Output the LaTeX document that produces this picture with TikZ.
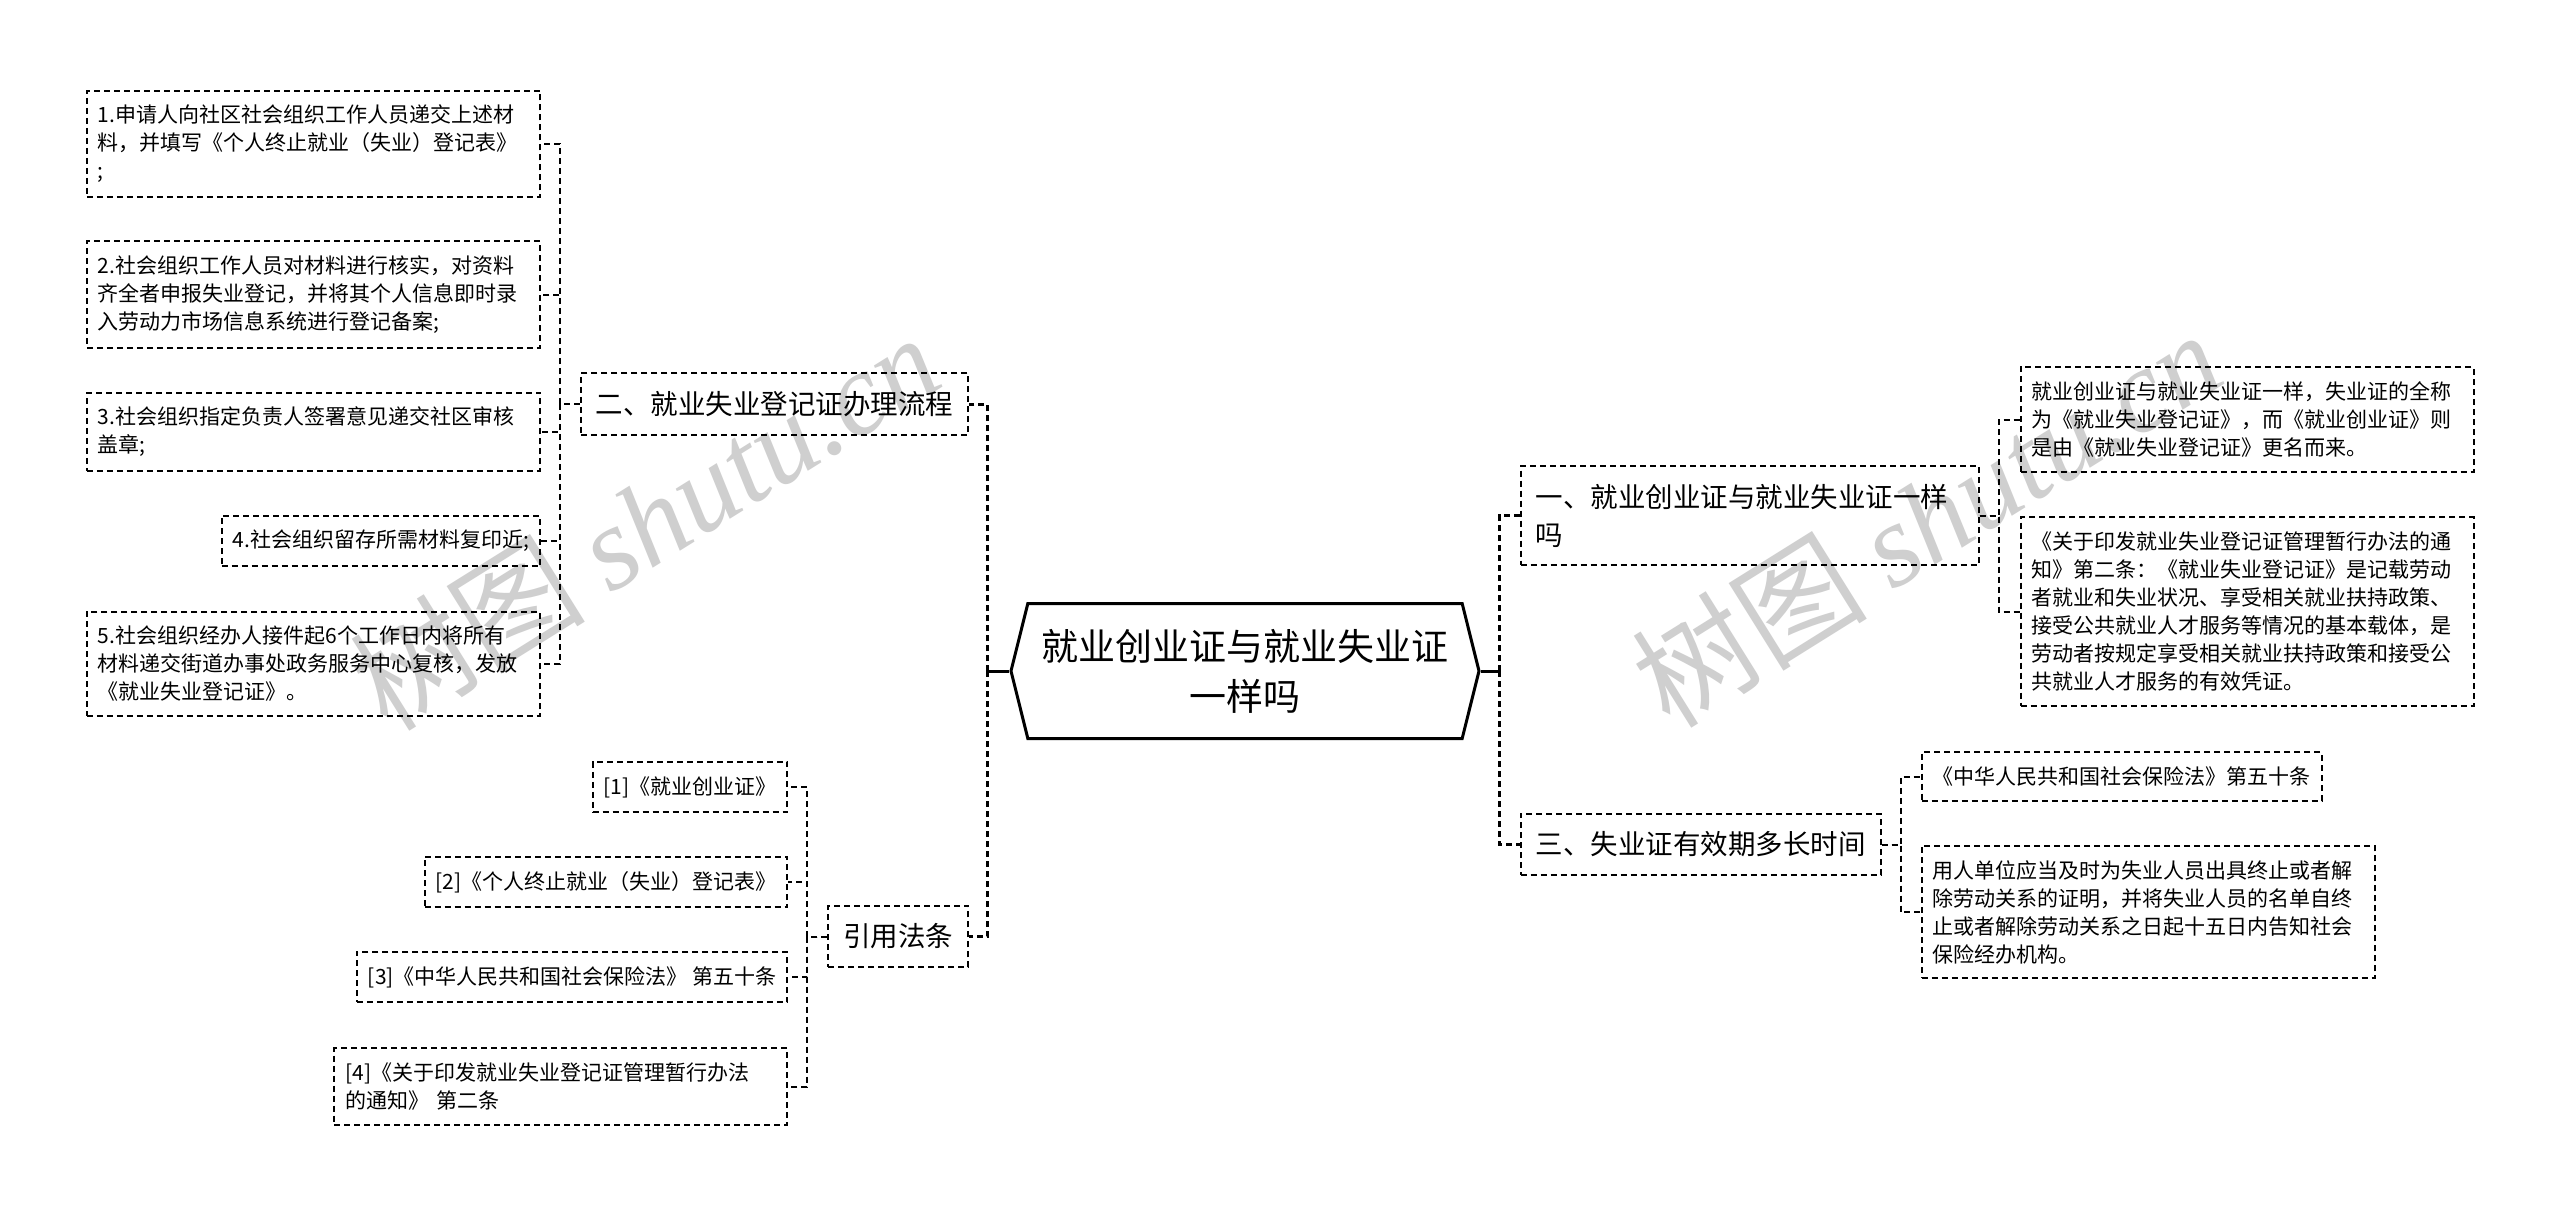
\documentclass[tikz,border=0pt]{standalone}
\usepackage{fontspec}
\setmainfont{Noto Sans CJK SC}
\newfontfamily\wmfont{Liberation Serif}
\usepackage{tikz}
\usetikzlibrary{shapes.symbols,positioning}

\begin{document}
\begin{tikzpicture}[
        x=1pt, y=1pt,
        topic/.style={signal, signal to=west and east, signal pointer angle=152, draw, line width=3pt, minimum width=468pt, minimum height=135pt, inner sep=0pt, align=center, font=\fontsize{37pt}{50pt}\selectfont},
        subtopic/.style={rectangle, draw, line width=2pt, dash pattern=on 6pt off 4pt, inner xsep=15pt, inner ysep=18pt, align=left, font=\fontsize{27.5pt}{38pt}\selectfont},
        leaf/.style={rectangle, draw, line width=2pt, dash pattern=on 6pt off 4pt, inner xsep=11pt, inner ysep=14.5pt, align=left, font=\fontsize{21pt}{28pt}\selectfont},
        note/.style={leaf, text width=431pt},
        stub/.style={line width=3pt},
        trunk/.style={line width=3pt, dash pattern=on 6pt off 4pt},
        link/.style={line width=2pt, dash pattern=on 6pt off 4pt},
        wmark/.style={rotate=32, text=black!19, font=\fontsize{118pt}{118pt}\selectfont}
    ]
        \fill[white] (0,0) rectangle (2560,-1217);
        \useasboundingbox (0,0) rectangle (2560,-1217);
        % watermark
        \node[wmark] (wm1) at (644,-521) {树图 {\wmfont\itshape shutu.cn}};
        \node[wmark] (wm2) at (1926,-518) {树图 {\wmfont\itshape shutu.cn}};
        % centre and main topics
        \node[topic] (root) at (1245,-671) {就业创业证与就业失业证\\一样吗};
        \node[subtopic, left=40pt of root, yshift=267pt] (flow) {二、就业失业登记证办理流程};
        \node[subtopic, left=40pt of root, yshift=-265.5pt] (cite) {引用法条};
        \node[subtopic, right=39pt of root, yshift=155.5pt, text width=428pt] (same) {一、就业创业证与就业失业证一样\\吗};
        \node[subtopic, right=39pt of root, yshift=-173.5pt] (valid) {三、失业证有效期多长时间};
        % procedure steps
        \node[note, left=39pt of flow, yshift=260pt] (s1) {1.申请人向社区社会组织工作人员递交上述材\\料，并填写《个人终止就业（失业）登记表》\\;};
        \node[note, left=39pt of flow, yshift=109.5pt] (s2) {2.社会组织工作人员对材料进行核实，对资料\\齐全者申报失业登记，并将其个人信息即时录\\入劳动力市场信息系统进行登记备案;};
        \node[note, left=39pt of flow, yshift=-28pt] (s3) {3.社会组织指定负责人签署意见递交社区审核\\盖章;};
        \node[leaf, left=39pt of flow, yshift=-137pt] (s4) {4.社会组织留存所需材料复印近;};
        \node[note, left=39pt of flow, yshift=-260pt] (s5) {5.社会组织经办人接件起6个工作日内将所有\\材料递交街道办事处政务服务中心复核，发放\\《就业失业登记证》。};
        % cited laws
        \node[leaf, left=39pt of cite, yshift=149.5pt] (law1) {[1]《就业创业证》};
        \node[leaf, left=39pt of cite, yshift=54.5pt] (law2) {[2]《个人终止就业（失业）登记表》};
        \node[leaf, left=39pt of cite, yshift=-40.5pt] (law3) {[3]《中华人民共和国社会保险法》 第五十条};
        \node[note, left=39pt of cite, yshift=-150pt] (law4) {[4]《关于印发就业失业登记证管理暂行办法\\的通知》 第二条};
        % right side
        \node[note, right=40pt of same, yshift=96pt] (same1) {就业创业证与就业失业证一样，失业证的全称\\为《就业失业登记证》，而《就业创业证》则\\是由《就业失业登记证》更名而来。};
        \node[note, right=40pt of same, yshift=-96pt] (same2) {《关于印发就业失业登记证管理暂行办法的通\\知》第二条：《就业失业登记证》是记载劳动\\者就业和失业状况、享受相关就业扶持政策、\\接受公共就业人才服务等情况的基本载体，是\\劳动者按规定享受相关就业扶持政策和接受公\\共就业人才服务的有效凭证。};
        \node[leaf, right=39pt of valid, yshift=68pt] (valid1) {《中华人民共和国社会保险法》第五十条};
        \node[note, right=39pt of valid, yshift=-67.5pt] (valid2) {用人单位应当及时为失业人员出具终止或者解\\除劳动关系的证明，并将失业人员的名单自终\\止或者解除劳动关系之日起十五日内告知社会\\保险经办机构。};
        % connectors
        \draw[stub] (root.west) -- ++(-22,0) coordinate (lt);
        \draw[stub] (root.east) -- ++(19,0) coordinate (rt);
        \draw[trunk] (lt) |- (flow.east);
        \draw[trunk] (lt) |- (cite.east);
        \draw[trunk] (rt) |- (same.west);
        \draw[trunk] (rt) |- (valid.west);
        \foreach \n in {s1,s2,s3,s4,s5}
            \draw[link] (flow.west) -- ++(-20,0) |- (\n.east);
        \foreach \n in {law1,law2,law3,law4}
            \draw[link] (cite.west) -- ++(-20,0) |- (\n.east);
        \foreach \n in {same1,same2}
            \draw[link] (same.east) -- ++(19,0) |- (\n.west);
        \foreach \n in {valid1,valid2}
            \draw[link] (valid.east) -- ++(19,0) |- (\n.west);
    \end{tikzpicture}
\end{document}
